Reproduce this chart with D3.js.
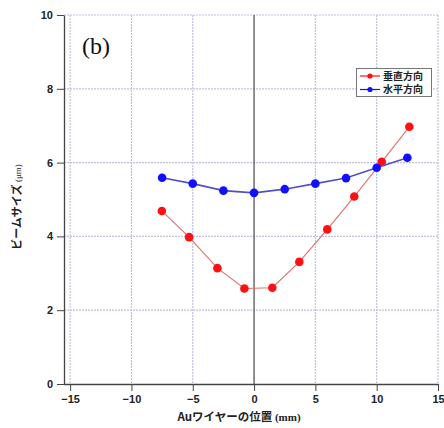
<!DOCTYPE html>
<html><head><meta charset="utf-8">
<script src="https://cdn.jsdelivr.net/npm/d3@7"></script>
<style>
body{margin:0;background:#fff;}
svg{display:block;}
</style></head>
<body>
<script>
// Beam size vs. Au wire position
const verticalX = [-7.52, -5.3, -2.99, -0.79, 1.49, 3.69, 5.97, 8.17, 10.41, 12.66];
const verticalY = [4.69, 3.98, 3.14, 2.59, 2.61, 3.31, 4.19, 5.08, 6.02, 6.97];
const horizontalX = [-7.5, -5.0, -2.5, 0.0, 2.5, 5.0, 7.5, 10.0, 12.5];
const horizontalY = [5.59, 5.43, 5.24, 5.18, 5.28, 5.43, 5.58, 5.86, 6.13];
const xTicks = [-15, -10, -5, 0, 5, 10, 15];
const yTicks = [0, 2, 4, 6, 8, 10];
const seriesNames = ["垂直方向", "水平方向"];
const seriesColors = ["#ff1010", "#1010ff"];
const lineColors = ["#e07070", "#5050c8"];

const W = 444, H = 428;
const svg = d3.select("body").append("svg").attr("width", W).attr("height", H);

const x = d3.scaleLinear().domain([-15.5, 15]).range([64, 438]);
const y = d3.scaleLinear().domain([0, 10]).range([384, 15]);

const sans = "Liberation Sans, Arial, sans-serif";
const jp = "Noto Sans CJK JP, sans-serif";

// grid
const grid = svg.append("g");
grid.selectAll("line.h").data(yTicks.filter(d => d > 0)).join("line")
  .attr("x1", 64).attr("x2", x(15) + 1)
  .attr("y1", d => y(d)).attr("y2", d => y(d))
  .attr("stroke", "#c0c0e4").attr("stroke-width", 1.2).attr("stroke-dasharray", "2,1");
grid.selectAll("line.v").data(xTicks.filter(d => d !== 0)).join("line")
  .attr("x1", d => x(d)).attr("x2", d => x(d))
  .attr("y1", 15).attr("y2", 384)
  .attr("stroke", "#c0c0e4").attr("stroke-width", 1.2).attr("stroke-dasharray", "2,1");
// zero line
svg.append("line").attr("x1", x(0)).attr("x2", x(0)).attr("y1", 15).attr("y2", 384)
  .attr("stroke", "#555").attr("stroke-width", 1.3);

// axes
const xAxis = svg.append("g").attr("transform", "translate(0,384)")
  .call(d3.axisBottom(x).tickValues(xTicks).tickSize(7).tickPadding(4).tickSizeOuter(0));
const yAxis = svg.append("g").attr("transform", "translate(64,0)")
  .call(d3.axisLeft(y).tickValues(yTicks).tickSize(7).tickPadding(4).tickSizeOuter(0));
[xAxis, yAxis].forEach(a => {
  a.select(".domain").attr("stroke", "#444").attr("stroke-width", 1.3);
  a.selectAll(".tick line").attr("stroke", "#444");
  a.selectAll("text").attr("font-family", sans).attr("font-weight", "bold")
    .attr("font-size", 11).attr("fill", "#222");
});
xAxis.select(".domain").attr("d", "M64,0.5H" + (x(15) + 1));

// series
const series = [
  {xs: verticalX, ys: verticalY},
  {xs: horizontalX, ys: horizontalY}
];
const line = d3.line().x(d => x(d[0])).y(d => y(d[1]));
series.forEach((s, i) => {
  const pts = s.xs.map((v, j) => [v, s.ys[j]]);
  svg.append("path").datum(pts).attr("d", line).attr("fill", "none")
    .attr("stroke", lineColors[i]).attr("stroke-width", i === 1 ? 1.6 : 1.1);
  svg.append("g").selectAll("circle").data(pts).join("circle")
    .attr("cx", d => x(d[0])).attr("cy", d => y(d[1])).attr("r", 4.3)
    .attr("fill", seriesColors[i]);
});

// legend
const lg = svg.append("g");
lg.append("rect").attr("x", 356.5).attr("y", 68.5).attr("width", 75).attr("height", 28)
  .attr("fill", "#fff").attr("stroke", "#777").attr("stroke-width", 1);
seriesNames.forEach((n, i) => {
  const yy = 76 + i * 13.5;
  lg.append("line").attr("x1", 360).attr("x2", 380).attr("y1", yy).attr("y2", yy)
    .attr("stroke", seriesColors[i]).attr("stroke-width", 1.2);
  lg.append("circle").attr("cx", 370).attr("cy", yy).attr("r", 2.6).attr("fill", seriesColors[i]);
  lg.append("text").attr("x", 383).attr("y", yy + 3.5).text(n)
    .attr("font-family", jp).attr("font-weight", "bold").attr("font-size", 10).attr("fill", "#222");
});

// panel label
svg.append("text").attr("x", 82).attr("y", 54).text("(b)")
  .attr("font-family", "Liberation Serif, Times New Roman, serif").attr("font-size", 24).attr("fill", "#111");

// axis titles
svg.append("text").attr("x", 239).attr("y", 421).attr("text-anchor", "middle")
  .attr("font-family", jp).attr("font-weight", "bold").attr("font-size", 11.5).attr("fill", "#222")
  .call(t => {
    t.append("tspan").text("Auワイヤーの位置 ");
    t.append("tspan").text("(mm)").attr("font-family", "Liberation Serif, serif").attr("font-size", 11);
  });
svg.append("text").attr("transform", "translate(21,207) rotate(-90)").attr("text-anchor", "middle")
  .attr("font-family", jp).attr("font-weight", "bold").attr("font-size", 11).attr("fill", "#222")
  .call(t => {
    t.append("tspan").text("ビームサイズ ");
    t.append("tspan").text("(μm)").attr("font-family", "Liberation Serif, serif").attr("font-size", 9).attr("font-weight", "normal");
  });
</script>
</body></html>
